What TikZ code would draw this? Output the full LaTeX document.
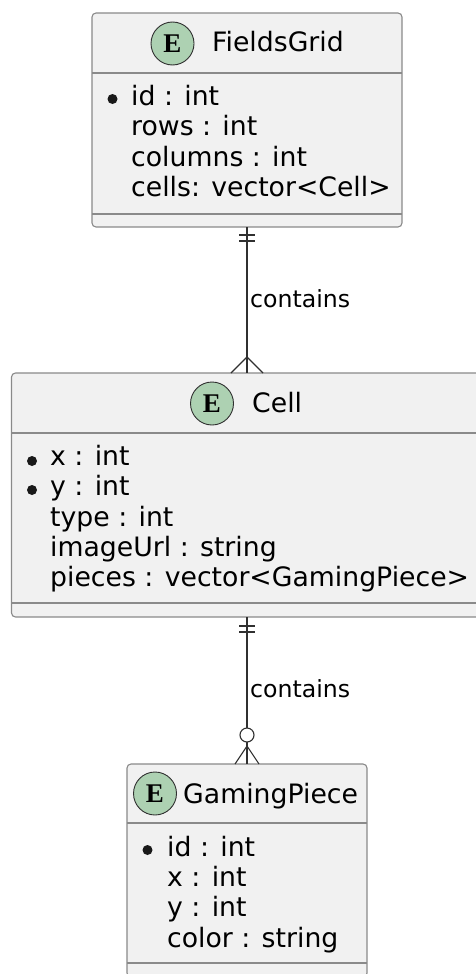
\documentclass[tikz,border=0pt]{standalone}
\usepackage{fontspec}
\setmainfont{DejaVu Sans}
\newfontfamily\badgefont{Liberation Serif}
\usetikzlibrary{positioning}
\definecolor{boxfill}{HTML}{F1F1F1}
\definecolor{boxline}{HTML}{8A8A8A}
\definecolor{relline}{HTML}{303030}
\definecolor{badgegreen}{HTML}{ADD1B2}
\begin{document}
\begin{tikzpicture}[x=1pt, y=-1pt]
	\tikzset{entity/.style={draw=boxline, line width=1.1pt, fill=boxfill, rounded corners=4pt, inner sep=0, outer sep=0}}
	\tikzset{divider/.style={draw=boxline, line width=1.1pt}}
	\tikzset{badge/.style={circle, draw=relline, line width=0.9pt, fill=badgegreen, inner sep=0, minimum size=43pt, font=\badgefont\bfseries\fontsize{27}{27}\selectfont}}
	\tikzset{title/.style={anchor=base west, inner sep=0, font=\fontsize{26.7}{30}\selectfont}}
	\tikzset{attr/.style={anchor=base west, inner sep=0, font=\fontsize{26.7}{30}\selectfont}}
	\tikzset{key/.style={circle, fill=black!90, inner sep=0, minimum size=10pt}}
	\tikzset{rel/.style={draw=relline, line width=1.1pt}}
	\tikzset{lbl/.style={anchor=base west, inner sep=0, font=\fontsize{23.6}{26}\selectfont}}
	\path[fill=white, use as bounding box] (0,0) rectangle (475,974);
	% entities
	\node[entity, minimum width=310pt, minimum height=214pt] at (247,120) (fg) {};
	\node[entity, minimum width=471pt, minimum height=244pt] at (247,495) (cell) {};
	\node[entity, minimum width=240pt, minimum height=213pt] at (247,870.5) (gp) {};
	\foreach \e/\h/\f in {fg/60/13, cell/60/14, gp/59/14} {
		\draw[divider] ([yshift=-\h pt]\e.north west) -- ([yshift=-\h pt]\e.north east);
		\draw[divider] ([yshift=\f pt]\e.south west) -- ([yshift=\f pt]\e.south east);
	}
	% FieldsGrid
	\node[badge] at (172.5,43.5) (fgb) {E};
	\node[title] at (212,52) (fgt) {FieldsGrid};
	\node[key] at (112.5,99) (fgk) {};
	\node[attr] at (131,105) (fg1) {id : int};
	\node[attr] at (131,135) (fg2) {rows : int};
	\node[attr] at (131,166) (fg3) {columns : int};
	\node[attr] at (131,196) (fg4) {cells: vector<Cell>};
	% Cell
	\node[badge] at (212,403.5) (cellb) {E};
	\node[title] at (252,412) (cellt) {Cell};
	\node[key] at (32,461) (cellk1) {};
	\node[key] at (32,490) (cellk2) {};
	\node[attr] at (50,465) (cell1) {x : int};
	\node[attr] at (50,495) (cell2) {y : int};
	\node[attr] at (50,526) (cell3) {type : int};
	\node[attr] at (50,556) (cell4) {imageUrl : string};
	\node[attr] at (50,586) (cell5) {pieces : vector<GamingPiece>};
	% GamingPiece
	\node[badge] at (155,793.5) (gpb) {E};
	\node[title] at (183,803) (gpt) {GamingPiece};
	\node[key] at (147.5,850) (gpk) {};
	\node[attr] at (167,856) (gp1) {id : int};
	\node[attr] at (167,886) (gp2) {x : int};
	\node[attr] at (167,916) (gp3) {y : int};
	\node[attr] at (167,947) (gp4) {color : string};
	% relations
	\draw[rel] (fg.south) -- (cell.north);
	\draw[rel] ([xshift=-8pt,yshift=-8pt]fg.south) -- ([xshift=8pt,yshift=-8pt]fg.south);
	\draw[rel] ([xshift=-8pt,yshift=-14pt]fg.south) -- ([xshift=8pt,yshift=-14pt]fg.south);
	\draw[rel] ([xshift=-16pt]cell.north) -- ([yshift=16pt]cell.north) -- ([xshift=16pt]cell.north);
	\node[lbl] at (250,307) (c1) {contains};
	\draw[rel] (cell.south) -- (gp.north);
	\draw[rel] ([xshift=-8pt,yshift=-9pt]cell.south) -- ([xshift=8pt,yshift=-9pt]cell.south);
	\draw[rel] ([xshift=-8pt,yshift=-15pt]cell.south) -- ([xshift=8pt,yshift=-15pt]cell.south);
	\draw[rel, fill=white] ([yshift=29pt]gp.north) circle (7);
	\draw[rel] ([xshift=-12pt]gp.north) -- ([yshift=18pt]gp.north) -- ([xshift=12pt]gp.north);
	\node[lbl] at (250,697) (c2) {contains};
\end{tikzpicture}
\end{document}
